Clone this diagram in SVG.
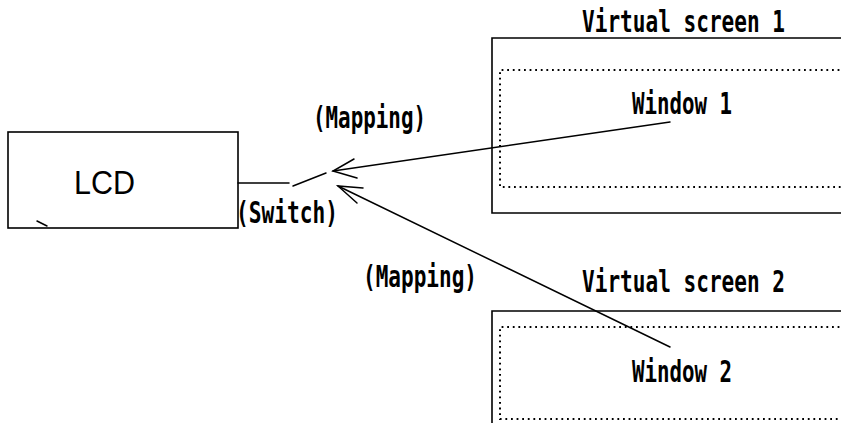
<svg xmlns="http://www.w3.org/2000/svg" width="841" height="423" viewBox="0 0 841 423">
  <style>
    .frame { fill: none; stroke: #000; stroke-width: 1.6; }
    .dots { fill: none; stroke: #000; stroke-width: 2; stroke-dasharray: 1.8 3.8; }
    .wire { fill: none; stroke: #000; stroke-width: 1.5; stroke-linecap: round; }
    .lbl { font-family: "DejaVu Sans Mono", "Liberation Mono", monospace; font-weight: bold; font-size: 30px; fill: #000; }
    .big { font-family: "Liberation Sans", Arial, sans-serif; font-size: 34px; fill: #000; }
  </style>
  <rect width="841" height="423" fill="#fff"/>

  <g id="lcd">
    <rect class="frame" x="8" y="132" width="230" height="96"/>
    <text class="big" x="74" y="194" textLength="61" lengthAdjust="spacingAndGlyphs">LCD</text>
    <line class="wire" x1="37" y1="221" x2="47" y2="226"/>
  </g>

  <g id="virtual-screen-1">
    <text class="lbl" x="582" y="32" textLength="203" lengthAdjust="spacingAndGlyphs">Virtual screen 1</text>
    <path class="frame" d="M845 38 H492 V213 H845"/>
  </g>
  <g id="window-1">
    <path class="dots" d="M845 70 H500 V187 H845"/>
    <text class="lbl" x="632" y="114" textLength="100" lengthAdjust="spacingAndGlyphs">Window 1</text>
  </g>

  <g id="virtual-screen-2">
    <text class="lbl" x="582" y="292" textLength="203" lengthAdjust="spacingAndGlyphs">Virtual screen 2</text>
    <path class="frame" d="M845 311 H492 V430"/>
  </g>
  <g id="window-2">
    <path class="dots" d="M845 327 H500 V419 H845"/>
    <text class="lbl" x="632" y="382" textLength="100" lengthAdjust="spacingAndGlyphs">Window 2</text>
  </g>

  <g id="switch">
    <line class="wire" x1="238" y1="183" x2="289" y2="183"/>
    <line class="wire" x1="293" y1="186" x2="326" y2="173"/>
    <text class="lbl" x="236" y="223" textLength="102" lengthAdjust="spacingAndGlyphs">(Switch)</text>
  </g>

  <g id="connectors">
    <!-- mapping from window 1 -->
    <line class="wire" x1="670" y1="122" x2="333" y2="171"/>
    <polyline class="wire" points="354,159 333,171 357,178"/>
    <text class="lbl" x="313" y="128" textLength="113" lengthAdjust="spacingAndGlyphs">(Mapping)</text>
    <!-- mapping from window 2 -->
    <line class="wire" x1="670" y1="347" x2="338" y2="186"/>
    <polyline class="wire" points="363,188 338,186 357,203"/>
    <text class="lbl" x="363" y="287" textLength="114" lengthAdjust="spacingAndGlyphs">(Mapping)</text>
  </g>
</svg>
